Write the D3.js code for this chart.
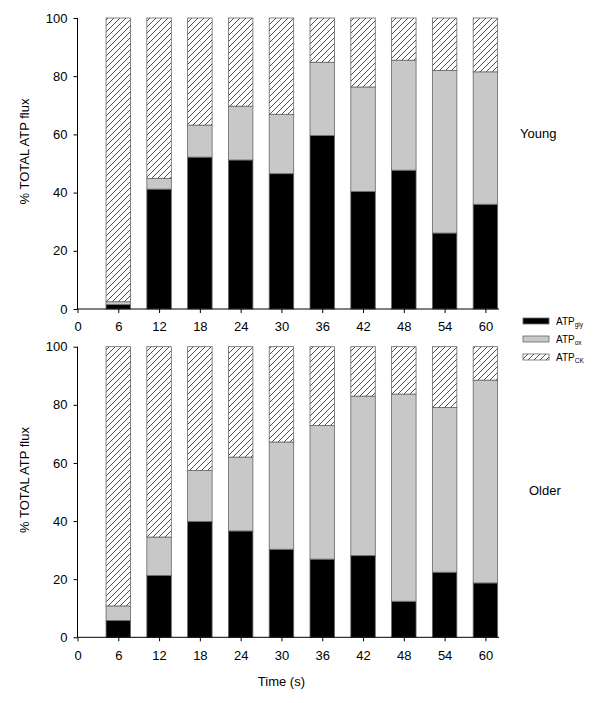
<!DOCTYPE html>
<html>
<head>
<meta charset="utf-8">
<script src="https://cdn.jsdelivr.net/npm/d3@7"></script>
<style>
  body { margin: 0; background: #fff; }
  svg { display: block; }
  text { font-family: "Liberation Sans", Arial, sans-serif; fill: #000; }
</style>
</head>
<body>
<svg id="chart" width="601" height="703"></svg>
<script>
// ---- data ----
const times = [6, 12, 18, 24, 30, 36, 42, 48, 54, 60];
const xTicks = [0, 6, 12, 18, 24, 30, 36, 42, 48, 54, 60];
const yTicks = [0, 20, 40, 60, 80, 100];

const youngGly = [1.5, 41.2, 52.2, 51.2, 46.5, 59.6, 40.4, 47.7, 26.1, 36.0];
const youngOx  = [1.0, 3.7, 11.0, 18.5, 20.4, 25.2, 35.9, 37.8, 55.9, 45.5];
const youngCK  = [97.5, 55.1, 36.8, 30.3, 33.1, 15.2, 23.7, 14.5, 18.0, 18.5];

const olderGly = [5.8, 21.3, 39.9, 36.6, 30.3, 26.9, 28.1, 12.4, 22.4, 18.7];
const olderOx  = [5.0, 13.2, 17.5, 25.4, 36.9, 46.0, 54.9, 71.3, 56.7, 69.8];
const olderCK  = [89.2, 65.5, 42.6, 38.0, 32.8, 27.1, 17.0, 16.3, 20.9, 11.5];

const seriesKeys = ["gly", "ox", "ck"];
const seriesSub = ["gly", "ox", "CK"];
const panelNames = ["Young", "Older"];

// ---- drawing ----
const svg = d3.select("#chart");
const defs = svg.append("defs");
const pat = defs.append("pattern")
  .attr("id", "hatch")
  .attr("patternUnits", "userSpaceOnUse")
  .attr("width", 6).attr("height", 6);
pat.append("rect").attr("width", 6).attr("height", 6).attr("fill", "#fff");
pat.append("path")
  .attr("d", "M-1,1 l2,-2 M0,6 l6,-6 M5,7 l2,-2")
  .attr("stroke", "#222").attr("stroke-width", 0.8);

const fills = { gly: "#000", ox: "#c8c8c8", ck: "url(#hatch)" };

const x = d3.scaleLinear().domain([0, 62]).range([77.5, 499]);
const barHalf = x(1.8) - x(0);

const panels = [
  { name: "Young", gly: youngGly, ox: youngOx, ck: youngCK, top: 18, bottom: 309, labelY: 138, labelX: 520 },
  { name: "Older", gly: olderGly, ox: olderOx, ck: olderCK, top: 346.7, bottom: 637.3, labelY: 495, labelX: 529 }
];

const stack = d3.stack().keys(seriesKeys);

panels.forEach((p, pi) => {
  const y = d3.scaleLinear().domain([0, 100]).range([p.bottom, p.top]);
  const rows = times.map((t, i) => ({ t: t, gly: p.gly[i], ox: p.ox[i], ck: p.ck[i] }));
  const stacked = stack(rows);
  const g = svg.append("g");

  stacked.forEach(layer => {
    g.append("g").selectAll("rect")
      .data(layer)
      .join("rect")
      .attr("x", d => x(d.data.t) - barHalf)
      .attr("width", barHalf * 2)
      .attr("y", d => y(d[1]))
      .attr("height", d => Math.max(0, y(d[0]) - y(d[1])))
      .attr("fill", fills[layer.key])
      .attr("stroke", "#666")
      .attr("stroke-width", 0.8);
  });

  // axes
  const yAxis = d3.axisLeft(y).tickValues(yTicks).tickSize(4).tickPadding(6).tickFormat(d3.format("d"));
  const ya = svg.append("g").attr("transform", `translate(${x(0)},0)`).call(yAxis);
  const xAxis = d3.axisBottom(x).tickValues(xTicks).tickSize(4).tickPadding(9).tickFormat(d3.format("d"));
  const xa = svg.append("g").attr("transform", `translate(0,${p.bottom})`).call(xAxis);
  [ya, xa].forEach(a => {
    a.select(".domain").attr("d", null);
    a.selectAll("text").style("font-size", "13px").style("font-family", "'Liberation Sans', Arial, sans-serif");
    a.selectAll("line").attr("stroke", "#000");
  });
  // axis lines
  svg.append("line").attr("x1", x(0)).attr("x2", x(0)).attr("y1", p.top).attr("y2", p.bottom).attr("stroke", "#000");
  svg.append("line").attr("x1", x(0)).attr("x2", x(62)).attr("y1", p.bottom).attr("y2", p.bottom).attr("stroke", "#000");

  // y title
  const cy = (p.top + p.bottom) / 2 - 12;
  svg.append("text")
    .attr("transform", `translate(29,${cy}) rotate(-90)`)
    .attr("text-anchor", "middle")
    .style("font-size", "13px")
    .text("% TOTAL ATP flux");

  // panel label
  svg.append("text").attr("x", p.labelX).attr("y", p.labelY).style("font-size", "13px").text(p.name);
});

// x title
svg.append("text").attr("x", x(30)).attr("y", 686).attr("text-anchor", "middle")
  .style("font-size", "13px").text("Time (s)");

// legend
const lg = svg.append("g");
seriesKeys.forEach((k, i) => {
  const ly = 318 + i * 18;
  lg.append("rect").attr("x", 523).attr("y", ly).attr("width", 26).attr("height", 6)
    .attr("fill", fills[k]).attr("stroke", "#666").attr("stroke-width", 0.8);
  const t = lg.append("text").attr("x", 556).attr("y", ly + 6.5).style("font-size", "10px");
  t.append("tspan").text("ATP");
  t.append("tspan").attr("dy", 2.5).style("font-size", "6.5px").text(seriesSub[i]);
});
</script>
</body>
</html>
